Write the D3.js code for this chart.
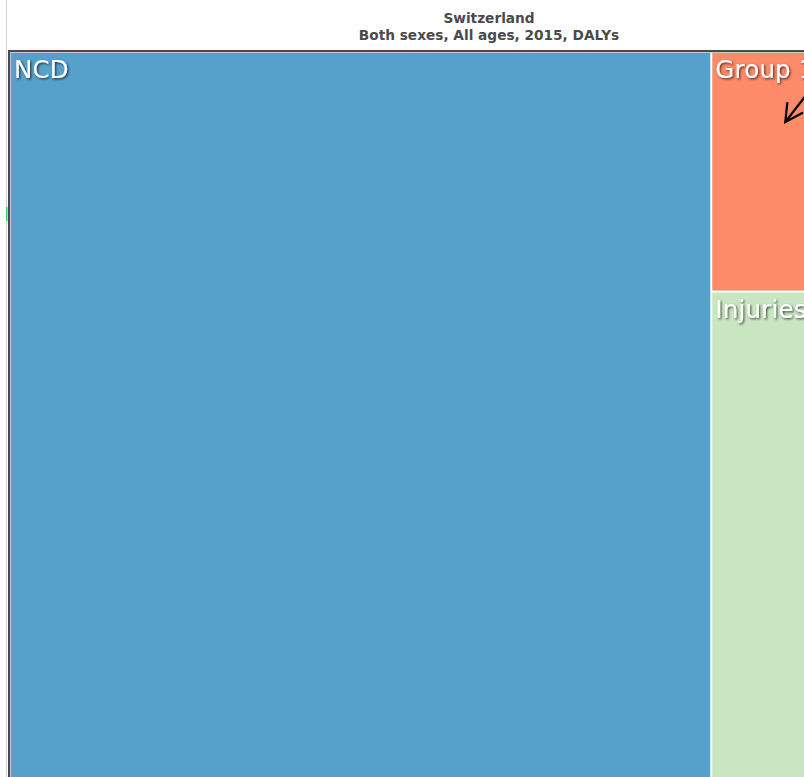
<!DOCTYPE html>
<html>
<head>
<meta charset="utf-8">
<script src="https://cdn.jsdelivr.net/npm/d3@7"></script>
<style>
  html, body { margin: 0; padding: 0; background: #fff; overflow: hidden; }
  .title { font-family: "DejaVu Sans", Verdana, sans-serif; font-weight: bold; font-size: 13.7px; fill: #4a4a4a; }
  .cell-label { font-family: "DejaVu Sans", Verdana, sans-serif; font-size: 24.5px; fill: #fff; letter-spacing: 0.2px; }
</style>
</head>
<body>
<div id="viz"></div>
<script>
// Width and height
var w = 980;
var h = 820;

// data
var causes = ["NCD", "Group 1", "Injuries"];
var dalys = [73.05, 8.45, 18.5];
var colors = ["#56a0cc", "#fd8a68", "#c8e7c1"];
var titleLines = ["Switzerland", "Both sexes, All ages, 2015, DALYs"];

var color = d3.scaleOrdinal()
    .domain(causes)
    .range(colors);

var svg = d3.select("#viz")
    .append("svg")
    .attr("width", w)
    .attr("height", h)
    .style("display", "block");

var defs = svg.append("defs");
var shadow = defs.append("filter")
    .attr("id", "shadow")
    .attr("x", "-20%").attr("y", "-20%")
    .attr("width", "140%").attr("height", "140%");
shadow.append("feDropShadow")
    .attr("dx", 1.2).attr("dy", 1.2)
    .attr("stdDeviation", 1.2)
    .attr("flood-color", "#000")
    .attr("flood-opacity", 0.7);

// page splitter line on the left
svg.append("line")
    .attr("x1", 6.5).attr("x2", 6.5)
    .attr("y1", 0).attr("y2", h)
    .attr("stroke", "#cfcfcf")
    .attr("stroke-width", 1);
svg.append("rect")
    .attr("x", 6).attr("y", 207)
    .attr("width", 1.5).attr("height", 14)
    .attr("fill", "#2fcf6a");

// title
svg.append("g").selectAll("text")
    .data(titleLines)
    .enter()
    .append("text")
    .attr("class", "title")
    .attr("x", 489)
    .attr("y", function(d, i) { return 23 + i * 17; })
    .attr("text-anchor", "middle")
    .text(function(d) { return d; });

// frame
var fx = 8, fy = 50;
svg.append("rect")
    .attr("x", fx + 1).attr("y", fy + 1)
    .attr("width", w).attr("height", h)
    .attr("fill", "#fff")
    .attr("stroke", "#4a4a4a")
    .attr("stroke-width", 2);
svg.append("rect")
    .attr("x", fx + 2).attr("y", fy + 2)
    .attr("width", w).attr("height", 1)
    .attr("fill", "#c8c8c8");
svg.append("rect")
    .attr("x", fx + 2).attr("y", fy + 2)
    .attr("width", 1).attr("height", h)
    .attr("fill", "#c8c8c8");

// treemap
var tw = 958, th = 762;
var root = d3.hierarchy({
        name: "root",
        children: causes.map(function(c, i) { return { name: c, value: dalys[i] }; })
    })
    .sum(function(d) { return d.value || 0; });

d3.treemap()
    .tile(d3.treemapSquarify)
    .size([tw, th])
    .paddingInner(2)(root);

var tm = svg.append("g")
    .attr("transform", "translate(11,53)");

var cells = tm.selectAll("g.cell")
    .data(root.leaves())
    .enter()
    .append("g")
    .attr("class", "cell")
    .attr("transform", function(d) { return "translate(" + d.x0 + "," + d.y0 + ")"; });

cells.append("clipPath")
    .attr("id", function(d, i) { return "clip" + i; })
    .append("rect")
    .attr("width", function(d) { return d.x1 - d.x0; })
    .attr("height", function(d) { return d.y1 - d.y0; });

cells.append("rect")
    .attr("width", function(d) { return d.x1 - d.x0; })
    .attr("height", function(d) { return d.y1 - d.y0; })
    .attr("fill", function(d) { return color(d.data.name); });

cells.append("text")
    .attr("class", "cell-label")
    .attr("clip-path", function(d, i) { return "url(#clip" + i + ")"; })
    .attr("x", 3)
    .attr("y", 25)
    .attr("filter", "url(#shadow)")
    .text(function(d) { return d.data.name; });

// annotation arrow inside Group 1
var g1 = root.leaves().filter(function(d) { return d.data.name === "Group 1"; })[0];
var ax = 11 + g1.x0 + 73, ay = 53 + g1.y0 + 69;
svg.append("path")
    .attr("d", "M" + (ax + 45) + "," + (ay - 58) + " L" + ax + "," + ay +
        " M" + (ax + 2) + "," + (ay - 19) + " L" + ax + "," + ay + " L" + (ax + 17) + "," + (ay - 9))
    .attr("fill", "none")
    .attr("stroke", "#000")
    .attr("stroke-width", 2.2)
    .attr("stroke-linecap", "round")
    .attr("stroke-linejoin", "miter");
</script>
</body>
</html>
